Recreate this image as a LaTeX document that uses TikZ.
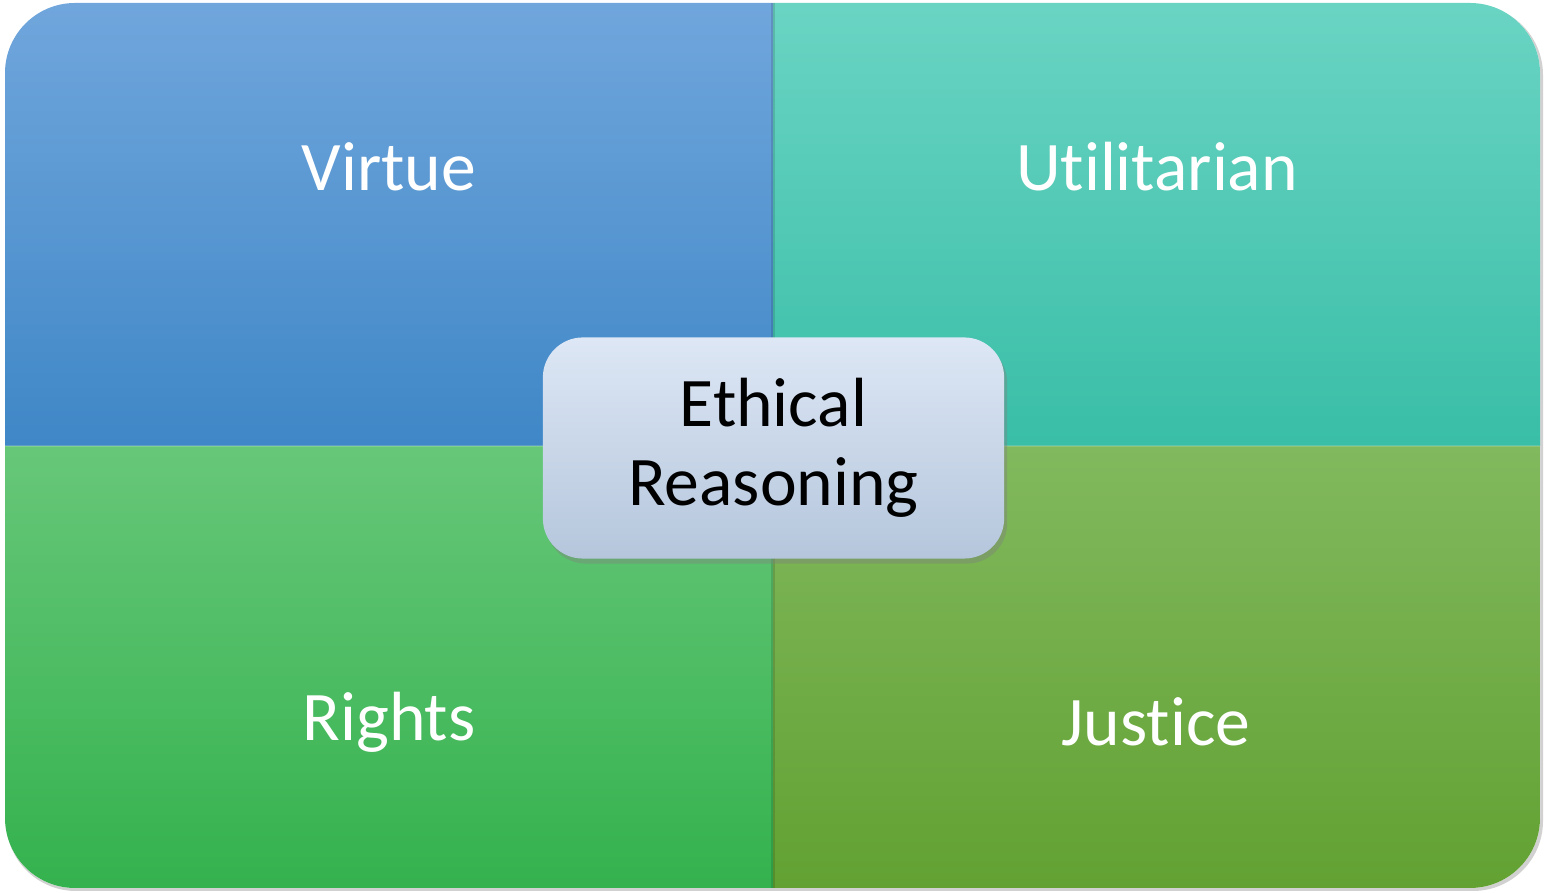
\documentclass[tikz,border=0pt]{standalone}
\usepackage{fontspec}
\setmainfont{Carlito}[Ligatures={NoCommon}]
\usepackage{tikz}
\usetikzlibrary{shadows}
\definecolor{virtuetop}{HTML}{70A6DC}
\definecolor{virtuebot}{HTML}{3F87C7}
\definecolor{utiltop}{HTML}{6AD4C3}
\definecolor{utilbot}{HTML}{39BEA7}
\definecolor{rightstop}{HTML}{67C779}
\definecolor{rightsbot}{HTML}{34B24E}
\definecolor{justtop}{HTML}{81B95E}
\definecolor{justbot}{HTML}{62A132}
\definecolor{boxtop}{HTML}{DDE7F5}
\definecolor{boxbot}{HTML}{B5C6DC}
\tikzset{
	quadlabel/.style={text=white, font=\fontsize{19.8}{24}\selectfont},
	centerbox/.style={rounded corners=0.4cm, minimum width=4.61cm, minimum height=2.21cm,
		top color=boxtop, bottom color=boxbot, align=center,
		drop shadow={opacity=0.4, shadow xshift=0.03cm, shadow yshift=-0.05cm},
		font=\fontsize{19.8}{22.5}\selectfont}
}

\begin{document}
\begin{tikzpicture}[x=0.01cm, y=0.01cm]
	\useasboundingbox (0,0) rectangle (1545,894);
	
	%outer shadow
	\fill[black!18, rounded corners=0.7cm] (6,3) rectangle (1543,889);
	\fill[white, rounded corners=0.7cm] (5,6) rectangle (1540,891);
	
	%top left and top right
	\shade[top color=virtuetop, bottom color=virtuebot] (773,448) -- (5,448) -- (5,821) arc (180:90:70) -- (773,891) -- cycle;
	\shade[top color=utiltop, bottom color=utilbot] (773,448) -- (1540,448) -- (1540,821) arc (0:90:70) -- (773,891) -- cycle;
	
	%bottom left and bottom right
	\shade[top color=rightstop, bottom color=rightsbot] (773,448) -- (5,448) -- (5,76) arc (180:270:70) -- (773,6) -- cycle;
	\shade[top color=justtop, bottom color=justbot] (773,448) -- (1540,448) -- (1540,76) arc (0:-90:70) -- (773,6) -- cycle;
	
	%dividers
	\draw[black, opacity=0.12, line width=1pt] (773,6) -- (773,891);
	\draw[white, opacity=0.15, line width=0.6pt] (5,448) -- (1540,448);
	
	%labels
	\node[quadlabel] (virtue) at (389,727) {Virtue};
	\node[quadlabel] (utilitarian) at (1157,727) {Utilitarian};
	\node[quadlabel] (rights) at (389,172) {Rights};
	\node[quadlabel] (justice) at (1156,172) {Justice};
	
	%middle
	\node[centerbox] (ethical) at (773.5,446) {Ethical\\Reasoning};
\end{tikzpicture}
\end{document}
